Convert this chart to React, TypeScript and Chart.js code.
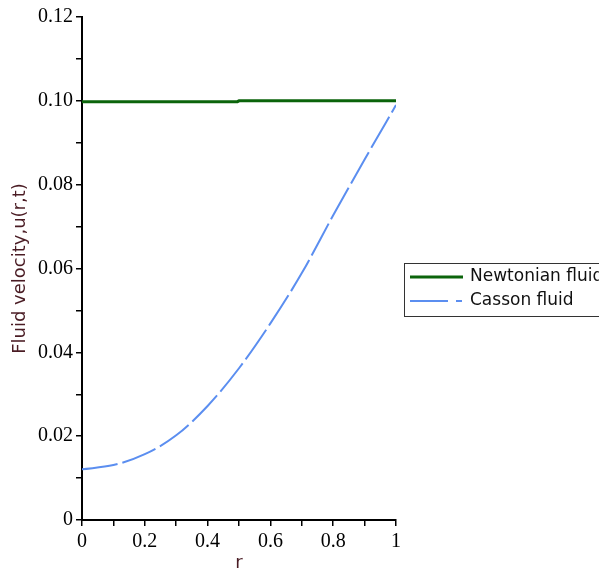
import React, { useEffect, useRef } from "react";
import { Chart, registerables } from "chart.js";

Chart.register(...registerables);

const cassonR = [0, 0.1, 0.2, 0.3, 0.4, 0.5, 0.6, 0.7, 0.8, 0.9, 1.0];
const cassonU = [0.0121, 0.0131, 0.0157, 0.0202, 0.0272, 0.0362, 0.0469, 0.0589, 0.0727, 0.086, 0.099];
const newtonR = [0, 0.495, 0.5, 1.0];
const newtonU = [0.0998, 0.0998, 0.1, 0.1];
const xTickLabels = ["0", "0.2", "0.4", "0.6", "0.8", "1"];
const yTickLabels = ["0", "0.02", "0.04", "0.06", "0.08", "0.10", "0.12"];
const seriesNames = ["Newtonian fluid", "Casson fluid"];
const GREEN = "#0b640b";
const BLUE = "#5b8ef0";

const legendPlugin = {
  id: "customLegend",
  afterDraw(chart: any) {
    const ctx = chart.ctx;
    ctx.save();
    const x0 = 404, y0 = 263, h = 53;
    ctx.fillStyle = "#fff";
    ctx.fillRect(x0, y0, 300, h);
    ctx.strokeStyle = "#333";
    ctx.lineWidth = 1;
    ctx.strokeRect(x0 + 0.5, y0 + 0.5, 300, h);
    ctx.strokeStyle = GREEN;
    ctx.lineWidth = 3;
    ctx.beginPath();
    ctx.moveTo(410, 277);
    ctx.lineTo(463, 277);
    ctx.stroke();
    ctx.strokeStyle = BLUE;
    ctx.lineWidth = 2;
    ctx.beginPath();
    ctx.moveTo(410, 301);
    ctx.lineTo(448, 301);
    ctx.moveTo(456, 301);
    ctx.lineTo(462, 301);
    ctx.stroke();
    ctx.fillStyle = "#111";
    ctx.font = "17px 'DejaVu Sans'";
    ctx.textBaseline = "middle";
    ctx.textAlign = "left";
    ctx.fillText(seriesNames[0], 470, 277);
    ctx.fillText(seriesNames[1], 470, 301);
    ctx.restore();
  },
};

export default function App() {
  const ref = useRef<HTMLCanvasElement>(null);
  useEffect(() => {
    if (!ref.current) return;
    const chart = new Chart(ref.current, {
      type: "line",
      data: {
        datasets: [
          {
            label: seriesNames[0],
            data: newtonR.map((r, i) => ({ x: r, y: newtonU[i] })),
            borderColor: GREEN,
            borderWidth: 3,
            pointRadius: 0,
            tension: 0,
          },
          {
            label: seriesNames[1],
            data: cassonR.map((r, i) => ({ x: r, y: cassonU[i] })),
            borderColor: BLUE,
            borderWidth: 2,
            borderDash: [36, 5],
            pointRadius: 0,
            cubicInterpolationMode: "monotone",
          },
        ],
      },
      options: {
        animation: false,
        responsive: false,
        maintainAspectRatio: false,
        layout: { padding: { top: 17, right: 203, left: 0, bottom: 0 } },
        plugins: { legend: { display: false }, tooltip: { enabled: false } },
        scales: {
          x: {
            type: "linear",
            min: 0,
            max: 1,
            afterFit: (s: any) => {
              s.height = 51;
            },
            border: { color: "#000", width: 2 },
            grid: { drawOnChartArea: false, drawTicks: true, tickLength: 6, color: "#000", lineWidth: 1.5 },
            ticks: {
              stepSize: 0.1,
              autoSkip: false,
              maxRotation: 0,
              padding: 4,
              color: "#000",
              font: { family: "'Liberation Serif'", size: 20 },
              callback: (v: any, i: number) => (i % 2 === 0 ? xTickLabels[i / 2] : ""),
            },
            title: {
              display: true,
              text: "r",
              color: "#4a1c24",
              font: { family: "'DejaVu Sans'", size: 18 },
              padding: { top: 0, bottom: -3 },
            },
          },
          y: {
            min: 0,
            max: 0.12,
            afterFit: (s: any) => {
              s.width = 82;
            },
            border: { color: "#000", width: 2 },
            grid: { drawOnChartArea: false, drawTicks: true, tickLength: 6, color: "#000", lineWidth: 1.5 },
            ticks: {
              stepSize: 0.01,
              autoSkip: false,
              padding: 3,
              color: "#000",
              font: { family: "'Liberation Serif'", size: 20 },
              callback: (v: any, i: number) => (i % 2 === 0 ? yTickLabels[i / 2] : ""),
            },
            title: {
              display: true,
              text: "Fluid velocity,u(r,t)",
              color: "#4a1c24",
              font: { family: "'DejaVu Sans'", size: 18 },
              padding: { top: 10, bottom: 0 },
            },
          },
        },
      },
      plugins: [legendPlugin],
    } as any);
    return () => chart.destroy();
  }, []);
  return (
    <div style={{ position: "fixed", left: 0, top: 0, width: 599, height: 571, background: "#fff" }}>
      <canvas ref={ref} width={599} height={571} style={{ display: "block" }} />
    </div>
  );
}
